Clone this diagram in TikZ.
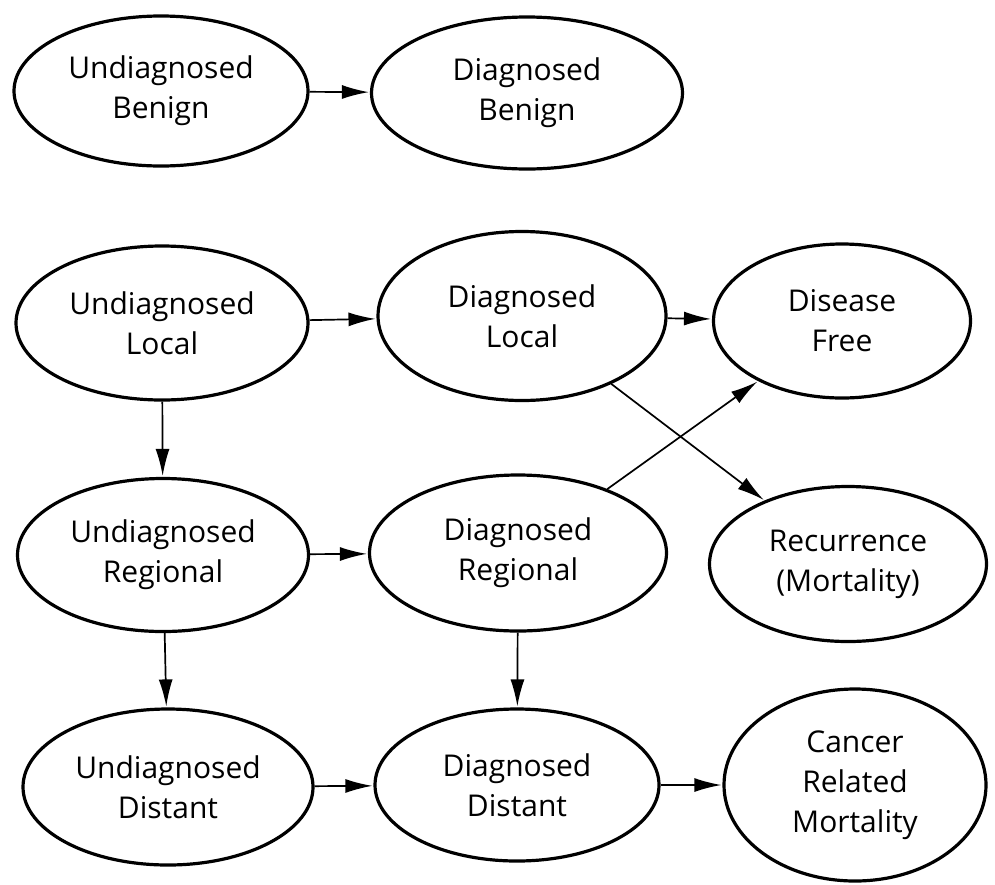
\documentclass[tikz,border=0pt]{standalone}
\usepackage{fontspec}
\setmainfont{Open Sans}
\usetikzlibrary{shapes.geometric,arrows.meta}
\tikzset{
  state/.style={draw=black, line width=3.2pt, ellipse, inner sep=0pt, align=center,
    font=\fontsize{30}{40}\selectfont, text=black},
  link/.style={line width=1.7pt, -{Latex[length=27pt,width=14pt]}, shorten >=1pt},
}
\begin{document}
\begin{tikzpicture}[x=1pt,y=-1pt]
\useasboundingbox (0,0) rectangle (995,884);
\fill[white] (0,0) rectangle (995,884);
\node[state, minimum width=294pt, minimum height=150pt] (UB) at (161,91) {Undiagnosed\\Benign};
\node[state, minimum width=311pt, minimum height=152pt] (DB) at (527,93) {Diagnosed\\Benign};
\node[state, minimum width=292pt, minimum height=154pt] (UL) at (162,323) {Undiagnosed\\Local};
\node[state, minimum width=288pt, minimum height=169pt] (DL) at (522,316) {Diagnosed\\Local};
\node[state, minimum width=257pt, minimum height=154pt] (DF) at (842,321) {Disease\\Free};
\node[state, minimum width=291pt, minimum height=153pt] (UR) at (163,555) {Undiagnosed\\Regional};
\node[state, minimum width=297pt, minimum height=156pt] (DR) at (518,553) {Diagnosed\\Regional};
\node[state, minimum width=277pt, minimum height=155pt] (RM) at (848,564) {Recurrence\\(Mortality)};
\node[state, minimum width=290pt, minimum height=156pt] (UD) at (168,787) {Undiagnosed\\Distant};
\node[state, minimum width=284pt, minimum height=152pt] (DD) at (517,785) {Diagnosed\\Distant};
\node[state, minimum width=262pt, minimum height=192pt] (CM) at (855,785) {Cancer\\Related\\Mortality};
\draw[link] (UB) -- (DB);
\draw[link] (UL) -- (DL);
\draw[link] (DL) -- (DF);
\draw[link] (DL) -- (RM);
\draw[link] (UL) -- (UR);
\draw[link] (UR) -- (DR);
\draw[link] (DR) -- (DF);
\draw[link] (UR) -- (UD);
\draw[link] (DR) -- (DD);
\draw[link] (UD) -- (DD);
\draw[link] (DD) -- (CM);
\end{tikzpicture}
\end{document}
